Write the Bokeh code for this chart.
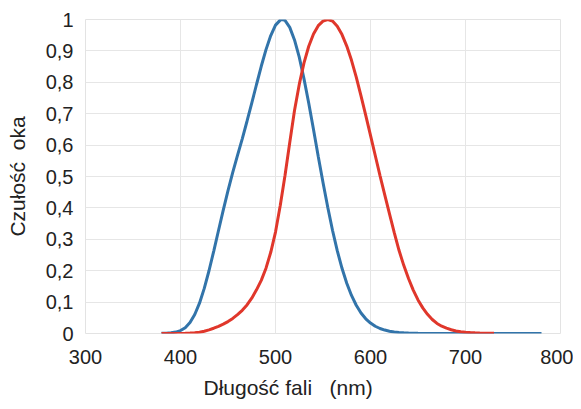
from bokeh.plotting import figure
from bokeh.models import FixedTicker, Range1d, Title
from bokeh.embed import file_html
from bokeh.resources import INLINE

# Scotopic (blue) sensitivity, nm / value
wl_blue = [380, 385, 390, 395, 400, 405, 410, 415, 420, 425, 430, 435, 440, 445, 450,
           455, 460, 465, 470, 475, 480, 485, 490, 495, 500, 505, 507, 510, 515, 520,
           525, 530, 535, 540, 545, 550, 555, 560, 565, 570, 575, 580, 585, 590, 595,
           600, 605, 610, 615, 620, 625, 630, 635, 640, 645, 650, 660, 670, 680, 690,
           700, 720, 740, 760, 780]
v_blue = [0.000589, 0.001108, 0.002209, 0.004531, 0.00929, 0.01852, 0.03484, 0.0604,
          0.0966, 0.1436, 0.1998, 0.2625, 0.3281, 0.3931, 0.455, 0.513, 0.567, 0.620,
          0.676, 0.734, 0.793, 0.851, 0.904, 0.949, 0.982, 0.998, 1.0, 0.997, 0.975,
          0.935, 0.880, 0.811, 0.733, 0.650, 0.564, 0.481, 0.402, 0.3288, 0.2639,
          0.2076, 0.1602, 0.1212, 0.0899, 0.0655, 0.0469, 0.03315, 0.02312, 0.01593,
          0.01088, 0.00737, 0.00497, 0.003335, 0.002235, 0.001497, 0.001005, 0.000677,
          0.000313, 0.000148, 0.0000715, 0.0000353, 0.0000178, 0.0000048, 0.0000014,
          0.0000004, 0.0000002]

# Photopic (red) sensitivity, nm / value
wl_red = [380, 385, 390, 395, 400, 405, 410, 415, 420, 425, 430, 435, 440, 445, 450,
          455, 460, 465, 470, 475, 480, 485, 490, 495, 500, 505, 510, 515, 520, 525,
          530, 535, 540, 545, 550, 555, 560, 565, 570, 575, 580, 585, 590, 595, 600,
          605, 610, 615, 620, 625, 630, 635, 640, 645, 650, 655, 660, 665, 670, 675,
          680, 685, 690, 695, 700, 705, 710, 715, 720, 725, 730]
v_red = [0.000039, 0.000064, 0.00012, 0.000217, 0.000396, 0.00064, 0.00121, 0.00218,
         0.004, 0.0073, 0.0116, 0.01684, 0.023, 0.0298, 0.038, 0.048, 0.06, 0.0739,
         0.09098, 0.1126, 0.13902, 0.1693, 0.20802, 0.2586, 0.323, 0.4073, 0.503,
         0.6082, 0.71, 0.7932, 0.862, 0.91485, 0.954, 0.9803, 0.99495, 1.0, 0.995,
         0.9786, 0.952, 0.9154, 0.87, 0.8163, 0.757, 0.6949, 0.631, 0.5668, 0.503,
         0.4412, 0.381, 0.321, 0.265, 0.217, 0.175, 0.1382, 0.107, 0.0816, 0.061,
         0.04458, 0.032, 0.0232, 0.017, 0.01192, 0.00821, 0.005723, 0.004102, 0.002929,
         0.002091, 0.001484, 0.001047, 0.00074, 0.00052]

x_ticks = [300, 400, 500, 600, 700, 800]
y_ticks = [0, 0.1, 0.2, 0.3, 0.4, 0.5, 0.6, 0.7, 0.8, 0.9, 1.0]
y_tick_labels = ["0", "0,1", "0,2", "0,3", "0,4", "0,5", "0,6", "0,7", "0,8", "0,9", "1"]
x_label = "Długość fali\u00a0\u00a0\u00a0(nm)"
y_label = "Czułość\u00a0\u00a0oka"

p = figure(width=573, height=405, output_backend="svg", toolbar_location=None,
           x_range=Range1d(300, 800), y_range=Range1d(0, 1.0),
           min_border_left=85, min_border_right=13, min_border_top=19,
           min_border_bottom=72)

p.line(wl_blue, v_blue, line_color="#3274aa", line_width=3)
p.line(wl_red, v_red, line_color="#e0372b", line_width=3)

p.outline_line_color = "#e3e3e3"
p.background_fill_color = "white"
p.border_fill_color = "white"

for g in (p.xgrid, p.ygrid):
    g.grid_line_color = "#e6e6e6"
    g.grid_line_width = 1

p.xaxis.ticker = FixedTicker(ticks=x_ticks)
p.yaxis.ticker = FixedTicker(ticks=y_ticks)
p.xgrid.ticker = FixedTicker(ticks=x_ticks)
p.ygrid.ticker = FixedTicker(ticks=y_ticks)
p.yaxis.major_label_overrides = {t: l for t, l in zip(y_ticks, y_tick_labels)}

for ax in (p.xaxis, p.yaxis):
    ax.axis_line_color = None
    ax.major_tick_line_color = None
    ax.minor_tick_line_color = None
    ax.major_tick_out = 0
    ax.major_tick_in = 0
    ax.major_label_text_font = "Liberation Sans"
    ax.major_label_text_font_size = "20px"
    ax.major_label_text_color = "#222222"
    ax.axis_label_text_font = "Liberation Sans"
    ax.axis_label_text_font_style = "normal"
    ax.axis_label_text_font_size = "21px"
    ax.axis_label_text_color = "#222222"

p.yaxis.axis_label = y_label
p.xaxis.major_label_standoff = 16
p.yaxis.major_label_standoff = 12
p.yaxis.axis_label_standoff = 14

xt = Title(text=x_label, align="left", offset=118, text_font="Liberation Sans",
           text_font_size="21px", text_font_style="normal", text_color="#222222",
           standoff=14)
p.add_layout(xt, "below")

open("out.html", "w").write(file_html(p, INLINE))
